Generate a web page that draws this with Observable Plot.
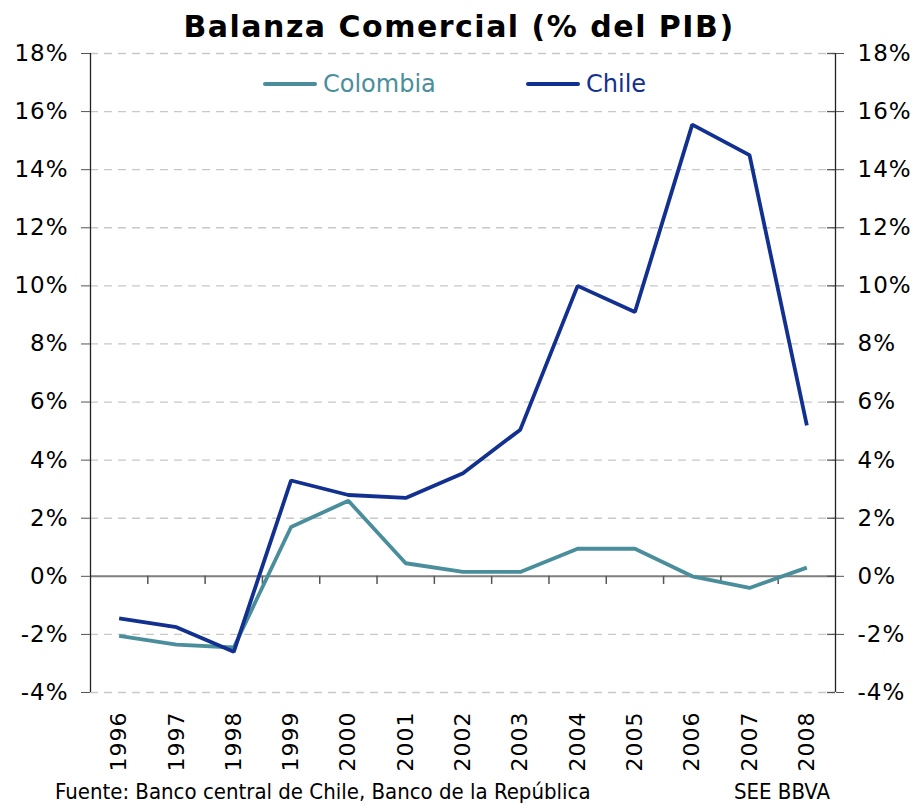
<!DOCTYPE html>
<html>
<head>
<meta charset="utf-8">
<script src="https://cdn.jsdelivr.net/npm/d3@7"></script>
<script src="https://cdn.jsdelivr.net/npm/@observablehq/plot@0.6"></script>
<style>
  html, body { margin: 0; padding: 0; background: #fff; }
  #wrap { position: relative; width: 918px; height: 807px; overflow: hidden; font-family: "DejaVu Sans", sans-serif; }
  #title { position: absolute; left: 0; width: 918px; top: 9px; text-align: center; font: bold 30px "DejaVu Sans", sans-serif; letter-spacing: 1.5px; color: #000; }
  #chart { position: absolute; left: 0; top: 0; }
  .leg { position: absolute; top: 70px; display: flex; align-items: center; font-size: 24px; }
  .leg .sw { width: 54px; height: 4px; margin-right: 6px; border-radius: 2px; }
  .cap { position: absolute; top: 779px; font-family: "Liberation Sans Narrow", "DejaVu Sans Condensed", "Liberation Sans", sans-serif; font-size: 22px; color: #000; white-space: nowrap; }
</style>
</head>
<body>
<div id="wrap">
  <div id="chart"></div>
  <div id="title">Balanza Comercial (% del PIB)</div>
  <div class="leg" style="left:263px;color:#4a8e9c"><div class="sw" style="background:#4a8e9c"></div>Colombia</div>
  <div class="leg" style="left:526px;color:#12308f"><div class="sw" style="background:#12308f"></div>Chile</div>
  <div class="cap" style="left:55px">Fuente: Banco central de Chile, Banco de la República</div>
  <div class="cap" style="right:88px">SEE BBVA</div>
</div>
<script>
const years = [1996, 1997, 1998, 1999, 2000, 2001, 2002, 2003, 2004, 2005, 2006, 2007, 2008];
const colombia = [-2.05, -2.35, -2.45, 1.7, 2.6, 0.45, 0.15, 0.15, 0.95, 0.95, 0.0, -0.4, 0.3];
const chile = [-1.45, -1.75, -2.6, 3.3, 2.8, 2.7, 3.55, 5.05, 10.0, 9.1, 15.55, 14.5, 5.2];
const yTicks = [-4, -2, 0, 2, 4, 6, 8, 10, 12, 14, 16, 18];
const seriesNames = ["Colombia", "Chile"];
const seriesColors = ["#4a8e9c", "#12308f"];

const rows = [];
years.forEach((y, i) => {
  rows.push({year: y, value: colombia[i], series: "Colombia"});
  rows.push({year: y, value: chile[i], series: "Chile"});
});
const bounds = years.slice(0, -1).map(y => y + 0.5);
const x0 = years[0] - 0.5, x1 = years[years.length - 1] + 0.5;

const plot = Plot.plot({
  width: 918,
  height: 780,
  marginTop: 53,
  marginBottom: 88,
  marginLeft: 90,
  marginRight: 83,
  style: {fontFamily: "DejaVu Sans, sans-serif", fontSize: "23px", color: "#000", background: "transparent", letterSpacing: "1px"},
  x: {domain: [x0, x1]},
  y: {domain: [-4, 18]},
  color: {domain: seriesNames, range: seriesColors},
  marks: [
    Plot.ruleY(yTicks, {stroke: "#c8c8c8", strokeWidth: 1.3, strokeDasharray: "8,6"}),
    Plot.ruleY([0], {stroke: "#808080", strokeWidth: 2}),
    Plot.ruleX(bounds, {y1: 0, y2: -0.28, stroke: "#555", strokeWidth: 1.5}),
    Plot.ruleX([x0, x1], {y1: -4, y2: 18, stroke: "#222", strokeWidth: 1.3}),
    Plot.ruleY(yTicks, {x1: x1 - 0.14, x2: x1, stroke: "#555", strokeWidth: 1.3}),
    Plot.axisY({anchor: "left", ticks: yTicks, tickFormat: d => d + "%", tickSize: 9, tickPadding: 13, stroke: "#555", label: null, fontSize: 23}),
    Plot.axisY({anchor: "right", ticks: yTicks, tickFormat: d => d + "%", tickSize: 8, tickPadding: 14, stroke: "#555", label: null, fontSize: 23}),
    Plot.axisX({ticks: years, tickFormat: d => String(d), tickSize: 0, tickRotate: -90, tickPadding: 19, label: null, fontSize: 22}),
    Plot.line(rows, {x: "year", y: "value", z: "series", stroke: "series", strokeWidth: 3.8, strokeLinejoin: "miter", strokeLinecap: "butt"})
  ]
});
document.getElementById("chart").appendChild(plot);
</script>
</body>
</html>
